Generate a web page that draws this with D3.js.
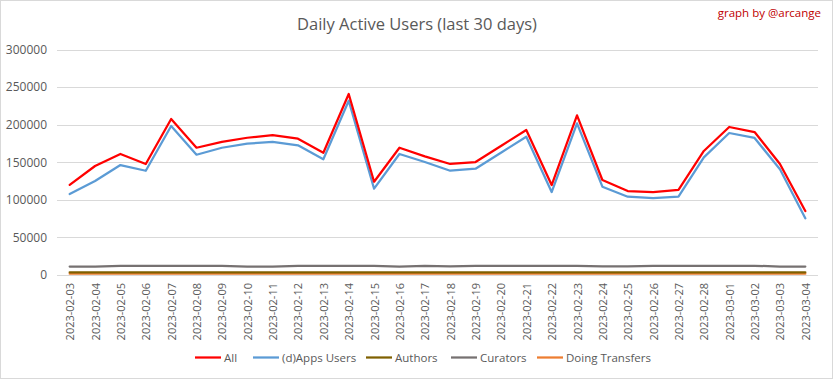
<!DOCTYPE html>
<html><head><meta charset="utf-8">
<script src="https://cdn.jsdelivr.net/npm/d3@7/dist/d3.min.js"></script>
<style>body{margin:0;background:#fff}svg{display:block}</style>
</head><body><svg id="c" width="833" height="379"></svg>
<script>
const dates = ["2023-02-03","2023-02-04","2023-02-05","2023-02-06","2023-02-07","2023-02-08","2023-02-09","2023-02-10","2023-02-11","2023-02-12","2023-02-13","2023-02-14","2023-02-15","2023-02-16","2023-02-17","2023-02-18","2023-02-19","2023-02-20","2023-02-21","2023-02-22","2023-02-23","2023-02-24","2023-02-25","2023-02-26","2023-02-27","2023-02-28","2023-03-01","2023-03-02","2023-03-03","2023-03-04"];
const allUsers = [120000,145000,161000,147700,207500,169300,177000,182600,186200,181300,162700,240800,124100,169300,157900,147700,150300,171600,192900,119700,212400,126400,111700,110400,113100,165000,196900,190200,147700,85100];
const appsUsers = [107700,125000,146300,138700,198200,160000,169300,174700,177000,172500,153900,231900,114800,161000,150300,138700,141400,162700,184000,110400,201800,117500,104200,102400,104200,156500,188900,182300,140600,75400];
const authors = [3600,3600,3600,3600,3600,3600,3600,3600,3600,3600,3600,3600,3600,3600,3600,3600,3600,3600,3600,3600,3600,3600,3600,3600,3600,3600,3600,3600,3600,3600];
const curators = [11200,11200,12300,12300,12300,12300,12300,11300,11300,12300,12300,12300,12300,11300,12300,11400,12300,12300,12300,12300,12300,11400,11400,12300,12300,12300,12300,12300,11300,11300];
const transfers = [1700,1700,1700,1700,1700,1700,1700,1700,1700,1700,1700,1700,1700,1700,1700,1700,1700,1700,1700,1700,1700,1700,1700,1700,1700,1700,1700,1700,1700,1700];
const yTicks = [0,50000,100000,150000,200000,250000,300000];
const seriesNames = ["All","(d)Apps Users","Authors","Curators","Doing Transfers"];
const seriesColors = ["#FF0000","#5B9BD5","#7F6000","#767171","#ED7D31"];
const seriesData = [allUsers, appsUsers, authors, curators, transfers];

const svg = d3.select("#c");
const font = "'Open Sans', 'Liberation Sans', sans-serif";
svg.append("rect").attr("x",0.5).attr("y",0.5).attr("width",832).attr("height",378)
  .attr("fill","#fff").attr("stroke","#D9D9D9");

const L=57, R=818, T=49.5, B=275;
const x = d3.scalePoint().domain(dates).range([L,R]).padding(0.5);
const y = d3.scaleLinear().domain([0,300000]).range([B,T]);

// grid
svg.append("g").selectAll("line").data(yTicks).join("line")
  .attr("x1",L).attr("x2",R).attr("y1",d=>Math.round(y(d))+0.5).attr("y2",d=>Math.round(y(d))+0.5)
  .attr("stroke","#D9D9D9").attr("stroke-width",1);

// y axis
const ya = svg.append("g").attr("transform",`translate(${L},0)`)
  .call(d3.axisLeft(y).tickValues(yTicks).tickFormat(d3.format("d")).tickSize(0).tickPadding(10));
ya.select(".domain").remove();
ya.selectAll("text").attr("fill","#595959").style("font-family",font).style("font-size","12px");

// x axis
const xa = svg.append("g").attr("transform",`translate(0,${B})`)
  .call(d3.axisBottom(x).tickSize(0).tickPadding(0));
xa.select(".domain").remove();
xa.selectAll("text").attr("fill","#595959").style("font-family",font).style("font-size","11px")
  .attr("transform","rotate(-90)").attr("text-anchor","end").attr("dx","-8px").attr("dy","4px").attr("y",0).attr("x",0);

// lines (draw bottom series first so All on top)
const line = d3.line().x((d,i)=>x(dates[i])).y(d=>y(d));
const order = [4,2,3,1,0];
order.forEach(k=>{
  svg.append("path").datum(seriesData[k]).attr("d",line).attr("fill","none")
    .attr("stroke",seriesColors[k]).attr("stroke-width",2.25).attr("stroke-linejoin","round").attr("stroke-linecap","round");
});

// title
svg.append("text").attr("x",417).attr("y",30).attr("text-anchor","middle")
  .style("font-family",font).style("font-size","16.5px").attr("fill","#595959").text("Daily Active Users (last 30 days)");
svg.append("text").attr("x",821).attr("y",17).attr("text-anchor","end")
  .style("font-family",font).style("font-size","11.5px").attr("fill","#C00000").text("graph by @arcange");

// legend
const legX = [195,253,366,451,537];
const lg = svg.append("g");
seriesNames.forEach((n,i)=>{
  lg.append("line").attr("x1",legX[i]).attr("x2",legX[i]+26).attr("y1",357.5).attr("y2",357.5)
    .attr("stroke",seriesColors[i]).attr("stroke-width",2.25);
  lg.append("text").attr("x",legX[i]+29).attr("y",362).style("font-family",font).style("font-size","11.5px")
    .attr("fill","#595959").text(n);
});
</script></body></html>
